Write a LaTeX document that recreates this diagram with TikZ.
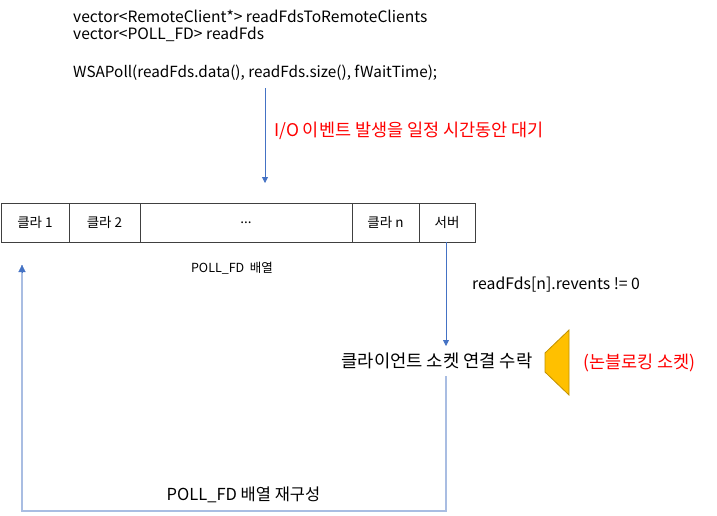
\documentclass[tikz,border=0pt]{standalone}
\usepackage{fontspec}
\setmainfont{Noto Sans CJK KR}
\usetikzlibrary{arrows.meta}
\definecolor{arrblue}{HTML}{4472C4}
\definecolor{lightblue}{HTML}{A9BDE2}
\definecolor{myred}{HTML}{FF0000}
\definecolor{orfill}{HTML}{FFC000}
\definecolor{ordraw}{HTML}{C09000}
\tikzset{
  code/.style={anchor=west,inner sep=0pt,font=\fontsize{15.6}{18}\selectfont},
  cell/.style={draw=black!75,line width=0.9pt,minimum height=39pt,inner sep=0pt,font=\fontsize{13.5}{15}\selectfont},
  lbl/.style={inner sep=0pt,font=\fontsize{12.5}{14}\selectfont},
  redlbl/.style={inner sep=0pt,anchor=west,text=myred,font=\fontsize{17.5}{19}\selectfont},
  flow/.style={draw=arrblue,line width=0.8pt,-{Triangle[length=6pt,width=6pt]}},
}
\begin{document}
\begin{tikzpicture}[x=1pt,y=-1pt]
\useasboundingbox (0,0) rectangle (717,515);
\node[code] (l1) at (73,16) {vector<RemoteClient*> readFdsToRemoteClients};
\node[code] (l2) at (73,34) {vector<POLL\_FD> readFds};
\node[code,font=\fontsize{15.3}{18}\selectfont] (l3) at (73,73) {WSAPoll(readFds.data(), readFds.size(), fWaitTime);};
\coordinate (a1s) at (265,88);
\coordinate (a1e) at (265,183);
\draw[flow] (a1s) -- (a1e);
\node[redlbl] (wait) at (274,131) {I/O 이벤트 발생을 일정 시간동안 대기};
% array
\node[cell,minimum width=68pt] (c1) at (35,222.5) {클라 1};
\node[cell,minimum width=71pt] (c2) at (104.5,222.5) {클라 2};
\node[cell,minimum width=212pt] (c3) at (246,222.5) {...};
\node[cell,minimum width=67pt] (c4) at (385.5,222.5) {클라 n};
\node[cell,minimum width=56pt] (c5) at (447,222.5) {서버};
\node[lbl] (arrlbl) at (232,268) {POLL\_FD~~배열};
\node[code,font=\fontsize{15.8}{18}\selectfont] (rev) at (472,285) {readFds[n].revents != 0};
\node[inner sep=0pt,font=\fontsize{17.7}{20}\selectfont] (accept) at (437,361) {클라이언트 소켓 연결 수락};
\draw[flow] (c5.south -| 446,0) -- (446,346);
\coordinate (acc1) at (446,376);
\coordinate (corner1) at (446,511);
\coordinate (corner2) at (22,511);
\coordinate (endup) at (22,265);
\draw[draw=lightblue,line width=1.2pt] (acc1) -- (corner1) -- (corner2) -- (endup);
\draw[arrblue,-{Triangle[length=7pt,width=7pt]},line width=0.1pt] (22,272) -- (endup);
\node[lbl,font=\fontsize{16.5}{18}\selectfont] (rebuild) at (243.5,495) {POLL\_FD 배열 재구성};
\draw[fill=orfill,draw=ordraw,line width=0.8pt] (569,330) -- (545,353) -- (545,372) -- (569,395) -- cycle;
\node[redlbl] (nb) at (583,363) {(논블로킹 소켓)};
\end{tikzpicture}
\end{document}
